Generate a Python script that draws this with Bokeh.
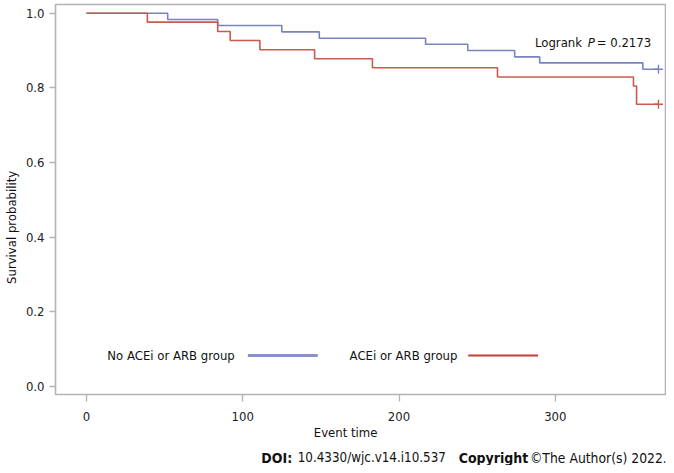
from bokeh.plotting import figure
from bokeh.models import Range1d, Label, FixedTicker
from bokeh.layouts import column
from bokeh.core.properties import value
from bokeh.embed import file_html
from bokeh.resources import INLINE

# ---- data ----
blue_time = [0, 52, 84, 125, 149, 217, 244, 274, 290, 356, 366]
blue_surv = [1.0, 0.983, 0.967, 0.950, 0.933, 0.917, 0.900, 0.883, 0.867, 0.850, 0.850]
red_time = [0, 39, 84, 92, 111, 146, 183, 263, 350, 352, 366]
red_surv = [1.0, 0.976, 0.951, 0.927, 0.902, 0.878, 0.854, 0.829, 0.805, 0.756, 0.756]
blue_censor_time = [366]
blue_censor_surv = [0.850]
red_censor_time = [366]
red_censor_surv = [0.756]
x_ticks = [0, 100, 200, 300]
y_ticks = [0.0, 0.2, 0.4, 0.6, 0.8, 1.0]
series_names = ["No ACEi or ARB group", "ACEi or ARB group"]
pvalue_text = "0.2173"
footer_parts = ["DOI:", "10.4330/wjc.v14.i10.537", "Copyright", "\u00a9The Author(s) 2022."]

FONT = "DejaVu Sans Condensed"
BLUE = "#7883c2"
RED = "#cc5a4c"
NB = "\u00a0"

p = figure(width=666, height=444,
           x_range=Range1d(-19.77, 370.5), y_range=Range1d(-0.0214, 1.0233),
           output_backend="svg", toolbar_location=None,
           min_border_left=53, min_border_right=1, min_border_top=4, min_border_bottom=50)

p.background_fill_color = "white"
p.border_fill_color = "white"
p.outline_line_color = "#b3b3b3"
p.outline_line_width = 1.6
p.xgrid.grid_line_color = None
p.ygrid.grid_line_color = None

for ax in (p.xaxis[0], p.yaxis[0]):
    ax.axis_line_color = None
    ax.major_tick_line_color = "#b3b3b3"
    ax.major_tick_line_width = 1.3
    ax.minor_tick_line_color = None
    ax.major_tick_in = 0
    ax.major_label_text_font = FONT
    ax.major_label_text_font_size = "13px"
    ax.major_label_text_color = "#222222"
    ax.axis_label_text_font = FONT
    ax.axis_label_text_font_size = "13px"
    ax.axis_label_text_font_style = "normal"
    ax.axis_label_text_color = "#111111"

p.xaxis.ticker = FixedTicker(ticks=x_ticks)
p.yaxis.ticker = FixedTicker(ticks=y_ticks)
p.yaxis.major_label_overrides = {t: f"{t:.1f}" for t in y_ticks}
p.xaxis.major_tick_out = 7
p.yaxis.major_tick_out = 6
p.xaxis.major_label_standoff = 10
p.yaxis.major_label_standoff = 5
p.xaxis.axis_label = "Event time" + NB * 8
p.yaxis.axis_label = "Survival probability" + NB * 15
p.xaxis.axis_label_standoff = 1
p.yaxis.axis_label_standoff = 4

# survival curves
p.step(blue_time, blue_surv, mode="after", line_color=BLUE, line_width=1.6)
p.step(red_time, red_surv, mode="after", line_color=RED, line_width=1.6)
p.scatter(blue_censor_time, blue_censor_surv, marker="cross", size=9, line_color=BLUE, line_width=1.4)
p.scatter(red_censor_time, red_censor_surv, marker="cross", size=9, line_color=RED, line_width=1.4)

# manual legend (label first, then line sample)
LEG_Y = 0.083
p.add_layout(Label(x=13.4, y=LEG_Y, text=series_names[0], text_font=FONT, text_font_size="13px",
                   text_baseline="middle", text_color="#111111"))
p.line([103.3, 148.0], [LEG_Y, LEG_Y], line_color="#8a90c8", line_width=3)
p.add_layout(Label(x=168.4, y=LEG_Y, text=series_names[1], text_font=FONT, text_font_size="13px",
                   text_baseline="middle", text_color="#111111"))
p.line([244.3, 288.9], [LEG_Y, LEG_Y], line_color="#c83a35", line_width=2)

# logrank annotation
P_Y = 0.922
p.add_layout(Label(x=287.0, y=P_Y, text="Logrank", text_font=FONT, text_font_size="13px",
                   text_baseline="middle", text_color="#111111"))
p.add_layout(Label(x=320.8, y=P_Y, text="P", text_font=FONT, text_font_size="13px",
                   text_font_style="italic", text_baseline="middle", text_color="#111111"))
p.add_layout(Label(x=326.5, y=P_Y, text="= " + pvalue_text, text_font=FONT, text_font_size="13px",
                   text_baseline="middle", text_color="#111111"))

# footer strip (separate small figure; x in page pixels)
f = figure(width=666, height=21, x_range=Range1d(53, 665), y_range=Range1d(21, 0),
           output_backend="svg", toolbar_location=None,
           min_border_left=53, min_border_right=1, min_border_top=0, min_border_bottom=0)
f.axis.visible = False
f.grid.visible = False
f.outline_line_color = None
f.background_fill_color = "white"
f.border_fill_color = "white"
footer_x = [259.5, 296, 457.5, 529]
footer_style = ["bold", "normal", "bold", "normal"]
footer_size = ["14px", "13.3px", "14px", "13.8px"]
for tx, tt, ts, fs in zip(footer_x, footer_parts, footer_style, footer_size):
    f.text(x=[tx], y=[13], text=[tt], text_font=value(FONT), text_font_size=fs,
           text_font_style=ts, text_baseline="middle", text_color="#111111")

layout = column(p, f, spacing=0)
open("out.html", "w").write(file_html(layout, INLINE))
